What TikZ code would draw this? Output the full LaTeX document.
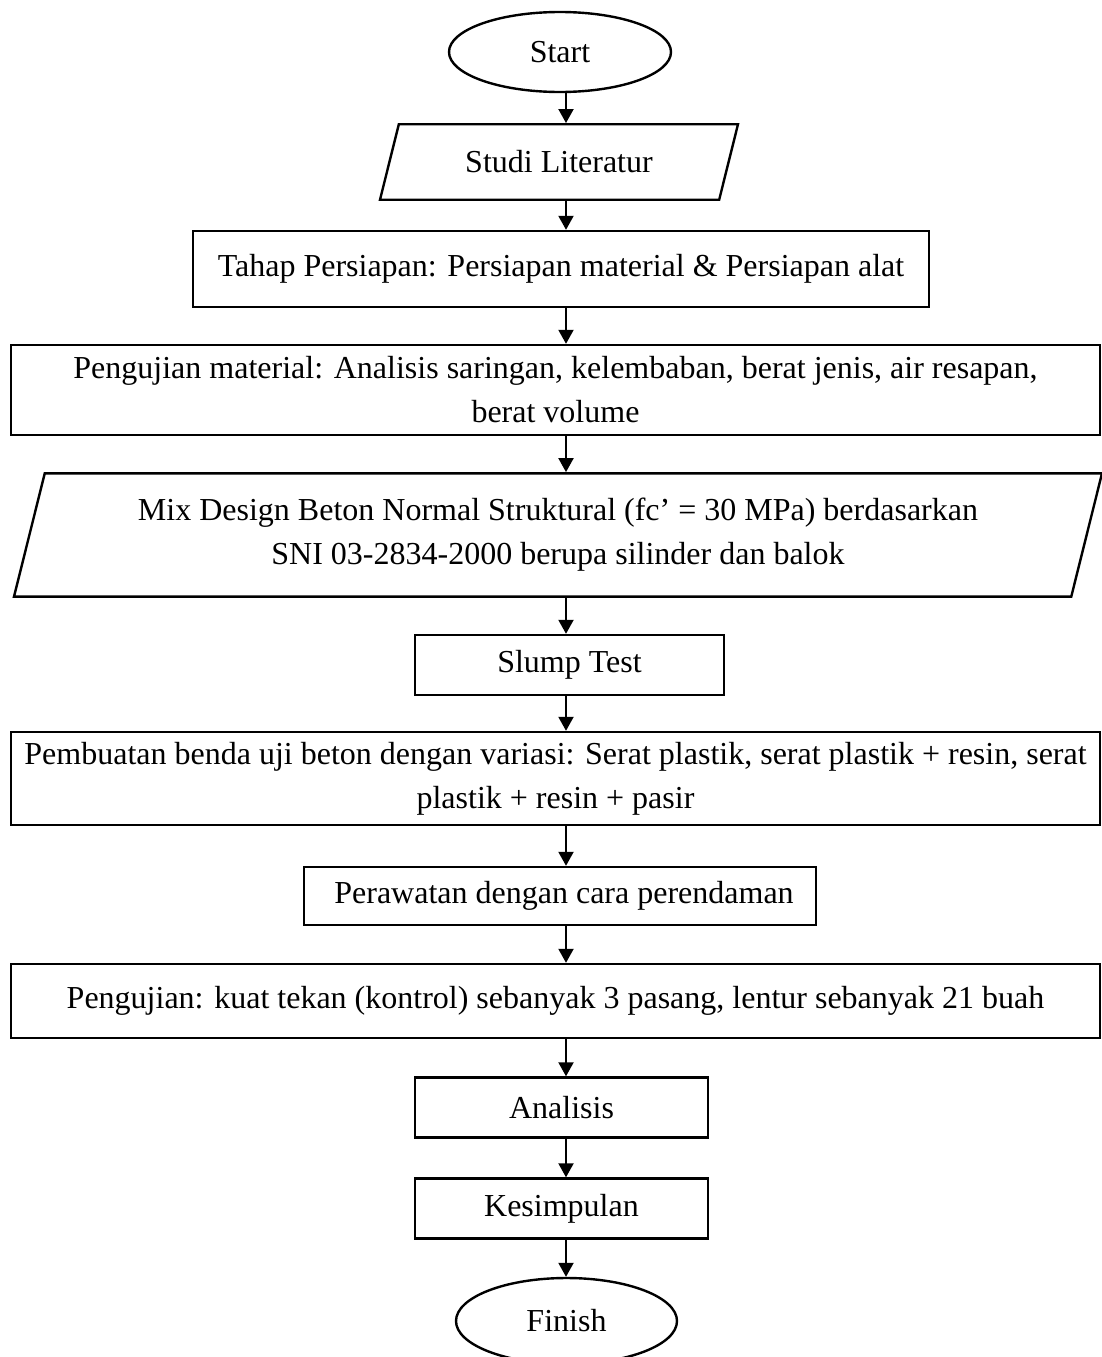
\documentclass[tikz,border=0pt]{standalone}
\usepackage{fontspec}
\setmainfont{Liberation Serif}
\usetikzlibrary{arrows.meta, shapes.geometric, calc}
\tikzset{
  every picture/.style={line width=2.4pt},
  every node/.style={font=\fontsize{32}{44}\selectfont, inner sep=2pt},
  terminal/.style={draw, ellipse, minimum width=#1, minimum height=80pt},
  terminal/.default=222pt,
  stepbox/.style={draw, rectangle, align=center, minimum width=#1},
  iobox/.style={draw, trapezium, trapezium left angle=76, trapezium right angle=104,
    trapezium stretches body, align=center, minimum width=#1},
  arrow/.style={-{Triangle[length=14pt, width=15pt]}, line width=2pt},
}
\begin{document}
\begin{tikzpicture}[x=1pt, y=-1pt]
  \useasboundingbox (0,0) rectangle (1102,1357);
  \coordinate (spine) at (566,0);
  % start and preparation
  \node[terminal] (start) at (560,52) {Start};
  \node[iobox=358pt, inner ysep=26.5pt] (studi) at (559,162) {Studi Literatur};
  \node[stepbox=736pt, minimum height=76pt] (tahap) at (561,269)
    {Tahap Persiapan: Persiapan material \& Persiapan alat};
  \node[stepbox=1089pt, minimum height=90pt] (pmat) at (555.5,390)
    {Pengujian material: Analisis saringan, kelembaban, berat jenis, air resapan,\\ berat volume};
  \node[iobox=1088pt, inner ysep=25pt] (mix) at (558,535)
    {Mix Design Beton Normal Struktural (fc’ = 30 MPa) berdasarkan\\ SNI 03-2834-2000 berupa silinder dan balok};
  % specimens
  \node[stepbox=309pt, minimum height=60pt] (slump) at (569.5,665) {Slump Test};
  \node[stepbox=1089pt, minimum height=93pt] (buat) at (555.5,778.5)
    {Pembuatan benda uji beton dengan variasi: Serat plastik, serat plastik + resin, serat\\ plastik + resin + pasir};
  \node[stepbox=512pt, minimum height=58pt] (rawat) at (560,896) {\ Perawatan dengan cara perendaman};
  \node[stepbox=1089pt, minimum height=74pt] (uji) at (555.5,1001)
    {Pengujian: kuat tekan (kontrol) sebanyak 3 pasang, lentur sebanyak 21 buah};
  % results
  \node[stepbox=293pt, minimum height=60pt] (anal) at (561.5,1107.5) {Analisis};
  \node[stepbox=293pt, minimum height=60pt] (simp) at (561.5,1208.5) {Kesimpulan};
  \node[terminal=221pt, minimum height=86pt] (finish) at (566.5,1321) {Finish};
  \foreach \a/\b in {start/studi, studi/tahap, tahap/pmat, pmat/mix, mix/slump, slump/buat,
      buat/rawat, rawat/uji, uji/anal, anal/simp, simp/finish}
    \draw[arrow] (\a.south -| spine) -- (\b.north -| spine);
\end{tikzpicture}
\end{document}
